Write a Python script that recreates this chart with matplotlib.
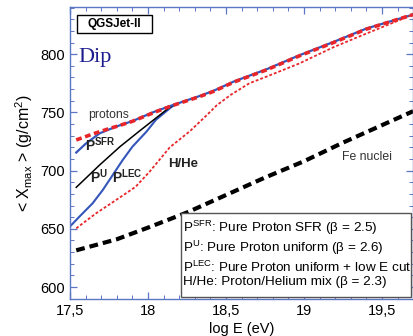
import matplotlib
matplotlib.use("Agg")
import matplotlib.pyplot as plt
from matplotlib.patches import Rectangle
from matplotlib.ticker import MultipleLocator

plt.rcParams['font.family'] = ['Liberation Sans', 'DejaVu Sans']
plt.rcParams['mathtext.fontset'] = 'custom'
plt.rcParams['mathtext.rm'] = 'Liberation Sans'
plt.rcParams['mathtext.bf'] = 'Liberation Sans:bold'

# datos
x_protons = [17.54, 17.60, 17.69, 17.80, 17.90, 18.04, 18.16, 18.33, 18.42, 18.55, 18.76, 18.97, 19.19, 19.40, 19.70]
y_protons = [715.5, 723.0, 732.0, 738.0, 742.5, 750.5, 756.3, 764.0, 768.5, 776.5, 787.0, 799.0, 810.5, 822.0, 834.0]

x_sfr = [17.54, 17.645, 17.75, 17.80, 17.90, 18.04, 18.16, 18.33, 18.42, 18.55, 18.76, 18.97, 19.19, 19.40, 19.70]
y_sfr = [726.3, 731.4, 736.0, 738.0, 742.3, 750.0, 756.0, 763.5, 768.0, 776.0, 786.5, 798.5, 810.0, 821.5, 834.0]

x_pu = [17.54, 17.69, 17.82, 17.94, 18.05, 18.14, 18.17]
y_pu = [685.6, 704.8, 720.5, 733.4, 745.0, 754.5, 756.5]

x_plec = [17.50, 17.56, 17.645, 17.71, 17.774, 17.838, 17.90, 17.99, 18.05, 18.14, 18.17]
y_plec = [652.0, 660.4, 671.9, 683.3, 696.2, 709.1, 720.5, 733.4, 743.5, 753.5, 756.5]

x_hhe = [17.54, 17.667, 17.795, 17.92, 18.01, 18.14, 18.27, 18.38, 18.44, 18.53, 18.65, 18.76, 18.97, 19.19, 19.36, 19.70]
y_hhe = [650.4, 663.3, 674.7, 686.0, 699.0, 720.0, 734.0, 748.0, 756.0, 765.0, 775.0, 780.7, 792.0, 806.0, 815.5, 834.0]

x_fe = [17.54, 17.80, 18.00, 18.25, 18.50, 18.75, 19.00, 19.25, 19.50, 19.70]
y_fe = [631.5, 641.0, 651.0, 664.0, 679.0, 694.0, 708.0, 724.0, 739.0, 751.0]

xtick_vals = [17.5, 18.0, 18.5, 19.0, 19.5]
xtick_labels = ["17,5", "18", "18,5", "19", "19,5"]
ytick_vals = [600, 650, 700, 750, 800]

legend_lines = [
    r"P$^{\rm SFR}$: Pure Proton SFR (β = 2.5)",
    r"P$^{\rm U}$: Pure Proton uniform (β = 2.6)",
    r"P$^{\rm LEC}$: Pure Proton uniform + low E cut",
    "H/He: Proton/Helium mix (β = 2.3)",
]

azul = '#3456bb'
rojo = '#e8262a'
borde = '#5b77c4'

fig = plt.figure(figsize=(4.14, 3.36), dpi=100)
ax = fig.add_axes([70/414, 1 - 299/336, 343/414, 292/336])

ax.plot(x_fe, y_fe, color='black', lw=3.0, dashes=(2.1, 1.2))
ax.plot(x_plec, y_plec, color=azul, lw=1.5)
ax.plot(x_pu, y_pu, color='black', lw=1.1)
ax.plot(x_protons, y_protons, color=azul, lw=1.6)
ax.plot(x_sfr, y_sfr, color=rojo, lw=2.6, dashes=(1.6, 1.0))
ax.plot(x_hhe, y_hhe, color=rojo, lw=1.3, dashes=(1.6, 1.1))

ax.set_xlim(17.5, 19.699)
ax.set_ylim(589.7, 840.5)
ax.set_xticks(xtick_vals)
ax.set_xticklabels(xtick_labels)
ax.set_yticks(ytick_vals)
ax.xaxis.set_minor_locator(MultipleLocator(0.1))
ax.yaxis.set_minor_locator(MultipleLocator(10))
ax.tick_params(which='both', direction='in', top=True, right=True, color=borde,
               labelsize=10.5, labelcolor='black')
ax.tick_params(which='major', length=5, width=0.9)
ax.tick_params(which='minor', length=3, width=0.7)
for s in ax.spines.values():
    s.set_color(borde)
    s.set_linewidth(1.0)

ax.set_xlabel("log E (eV)", fontsize=10.5, labelpad=3)
ax.set_ylabel(r"< X$_{\rm max}$ > (g/cm$^2$)", fontsize=11.5, labelpad=4)

# etiquetas
ax.text(17.615, 745.2, "protons", fontsize=8.8, color='#333333')
ax.text(17.596, 717.1, r"$\mathbf{P^{SFR}}$", fontsize=10, color='#222222')
ax.text(17.628, 689.6, r"$\mathbf{P^{U}}$", fontsize=10, color='#222222')
ax.text(17.769, 689.6, r"$\mathbf{P^{LEC}}$", fontsize=10, color='#222222')
ax.text(18.128, 702.8, "H/He", fontsize=9.5, fontweight='bold', color='#222222')
ax.text(19.244, 709.1, "Fe nuclei", fontsize=8.8, color='#333333')
ax.text(17.551, 793.3, "Dip", fontsize=16, color='#1c1c8e', family='Liberation Serif')

ax.add_patch(Rectangle((0.020, 0.911), 0.219, 0.062, transform=ax.transAxes,
                       fill=False, edgecolor='black', lw=1.0))
ax.text(0.130, 0.942, "QGSJet-II", transform=ax.transAxes, fontsize=8.5,
        fontweight='bold', ha='center', va='center')

ax.add_patch(Rectangle((0.324, 0.007), 0.670, 0.288, transform=ax.transAxes,
                       facecolor='white', edgecolor='#555555', lw=1.0, zorder=3))
for yy, t in zip([0.229, 0.161, 0.092, 0.048], legend_lines):
    ax.text(0.329, yy, t, transform=ax.transAxes, fontsize=9.7, va='baseline', zorder=4)

fig.savefig("out.png", dpi=100)
